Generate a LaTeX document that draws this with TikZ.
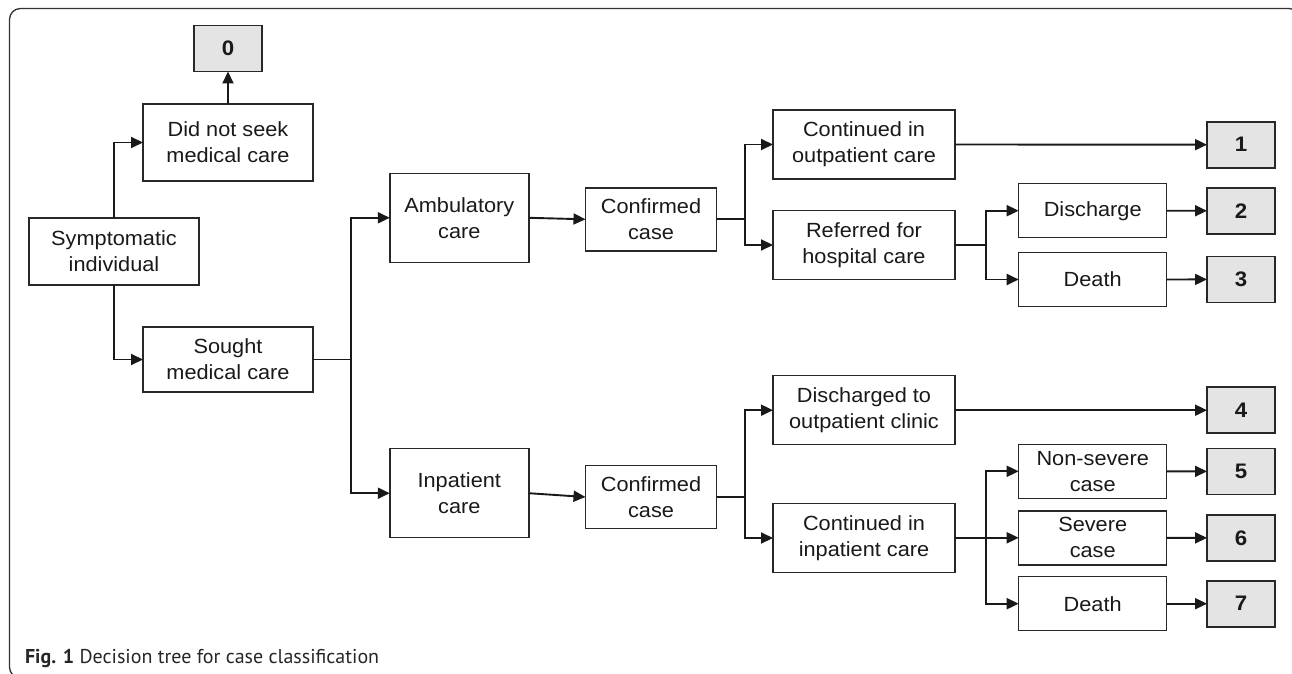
\documentclass[tikz,border=0pt]{standalone}
\usepackage{fontspec}
\setmainfont[FakeStretch=1.06]{Liberation Sans}
\newfontfamily\capfont{PT Sans}
\usetikzlibrary{arrows.meta}
\definecolor{boxline}{RGB}{40,40,40}
\definecolor{numfill}{RGB}{228,228,228}
\definecolor{framec}{RGB}{50,50,50}
\begin{document}
\begin{tikzpicture}[x=1pt,y=-1pt,
  every node/.style={inner sep=0pt, outer sep=0pt},
  txtbox/.style={draw=boxline, line width=1.5pt, fill=white, align=center,
    font=\fontsize{20.5}{26}\selectfont, text=black!90},
  numbox/.style={draw=boxline, line width=1.7pt, fill=numfill, minimum width=68pt, minimum height=46pt,
    font=\fontsize{21}{24}\selectfont\bfseries, text=black!90},
  conn/.style={line width=1.9pt, draw=black!90},
  arr/.style={conn, -{Triangle[length=12pt,width=11pt]}}
]
\useasboundingbox (0,0) rectangle (1292,674);
\begin{scope}
\clip (0,0) rectangle (1292,674);
\draw[framec, line width=1.3pt, rounded corners=11pt] (9.5,8.5) rectangle (1300,678);
\end{scope}

% left part
\node[numbox] (n0) at (228,48.5) {0};
\node[txtbox, minimum width=170pt, minimum height=77pt] (dns) at (228,142.5) {Did not seek\\medical care};
\node[txtbox, minimum width=170pt, minimum height=67pt] (sym) at (114,251.5) {Symptomatic\\individual};
\node[txtbox, minimum width=170pt, minimum height=65pt] (sought) at (228,359.5) {Sought\\medical care};

\node[txtbox, minimum width=139pt, minimum height=89pt] (amb) at (459.3,217.8) {Ambulatory\\care};
\node[txtbox, minimum width=131pt, minimum height=63pt] (conf1) at (651,219.3) {Confirmed\\case};
\node[txtbox, minimum width=139pt, minimum height=89pt] (inp) at (459.3,493.2) {Inpatient\\care};
\node[txtbox, minimum width=131pt, minimum height=63pt] (conf2) at (651,497) {Confirmed\\case};

% upper right
\node[txtbox, minimum width=182pt, minimum height=69pt] (cout) at (864,144.5) {Continued in\\outpatient care};
\node[txtbox, minimum width=182pt, minimum height=69pt] (ref) at (864,245) {Referred for\\hospital care};
\node[txtbox, minimum width=148pt, minimum height=54pt] (dis) at (1092.7,210.7) {Discharge};
\node[txtbox, minimum width=148pt, minimum height=54pt] (dth1) at (1092.7,279.5) {Death};

% lower right
\node[txtbox, minimum width=182pt, minimum height=69pt] (dout) at (864,410.2) {Discharged to\\outpatient clinic};
\node[txtbox, minimum width=182pt, minimum height=69pt] (cin) at (864,538) {Continued in\\inpatient care};
\node[txtbox, minimum width=148pt, minimum height=54pt] (ns) at (1092.7,471.3) {Non-severe\\case};
\node[txtbox, minimum width=148pt, minimum height=54pt] (sev) at (1092.7,537.8) {Severe\\case};
\node[txtbox, minimum width=148pt, minimum height=54pt] (dth2) at (1092.7,603.7) {Death};

% outcome boxes
\node[numbox] (n1) at (1241,144.7) {1};
\node[numbox] (n2) at (1241,210.8) {2};
\node[numbox] (n3) at (1241,279.4) {3};
\node[numbox] (n4) at (1241,410.2) {4};
\node[numbox] (n5) at (1241,471.4) {5};
\node[numbox] (n6) at (1241,537.9) {6};
\node[numbox] (n7) at (1241,603.7) {7};

% branch points
\coordinate (b1) at (351,359.5);
\coordinate (b2) at (745,219.3);
\coordinate (b3) at (986,245);
\coordinate (b4) at (745,497);
\coordinate (b5) at (986,538);

% connectors
\draw[arr] (dns.north) -- (n0.south);
\draw[arr] (sym.north) |- (dns.west);
\draw[arr] (sym.south) |- (sought.west);
\draw[conn] (sought.east) -- (b1);
\draw[arr] (b1) |- (amb.west);
\draw[arr] (b1) |- (inp.west);

\draw[arr] (amb.east) -- (conf1.west);
\draw[conn] (conf1.east) -- (b2);
\draw[arr] (b2) |- (cout.west);
\draw[arr] (b2) |- (ref.west);
\draw[arr] (cout.east) -- (n1.west);
\draw[conn] (ref.east) -- (b3);
\draw[arr] (b3) |- (dis.west);
\draw[arr] (b3) |- (dth1.west);
\draw[arr] (dis.east) -- (n2.west);
\draw[arr] (dth1.east) -- (n3.west);

\draw[arr] (inp.east) -- (conf2.west);
\draw[conn] (conf2.east) -- (b4);
\draw[arr] (b4) |- (dout.west);
\draw[arr] (b4) |- (cin.west);
\draw[arr] (dout.east) -- (n4.west);
\draw[conn] (cin.east) -- (b5);
\draw[arr] (b5) |- (ns.west);
\draw[arr] (b5) |- (sev.west);
\draw[arr] (b5) |- (dth2.west);
\draw[arr] (ns.east) -- (n5.west);
\draw[arr] (sev.east) -- (n6.west);
\draw[arr] (dth2.east) -- (n7.west);

% caption
\node[anchor=base west, font=\capfont\fontsize{20}{24}\selectfont, text=black!85] (cap) at (25,663.3)
  {\textbf{Fig. 1} Decision tree for case classification};
\end{tikzpicture}
\end{document}
